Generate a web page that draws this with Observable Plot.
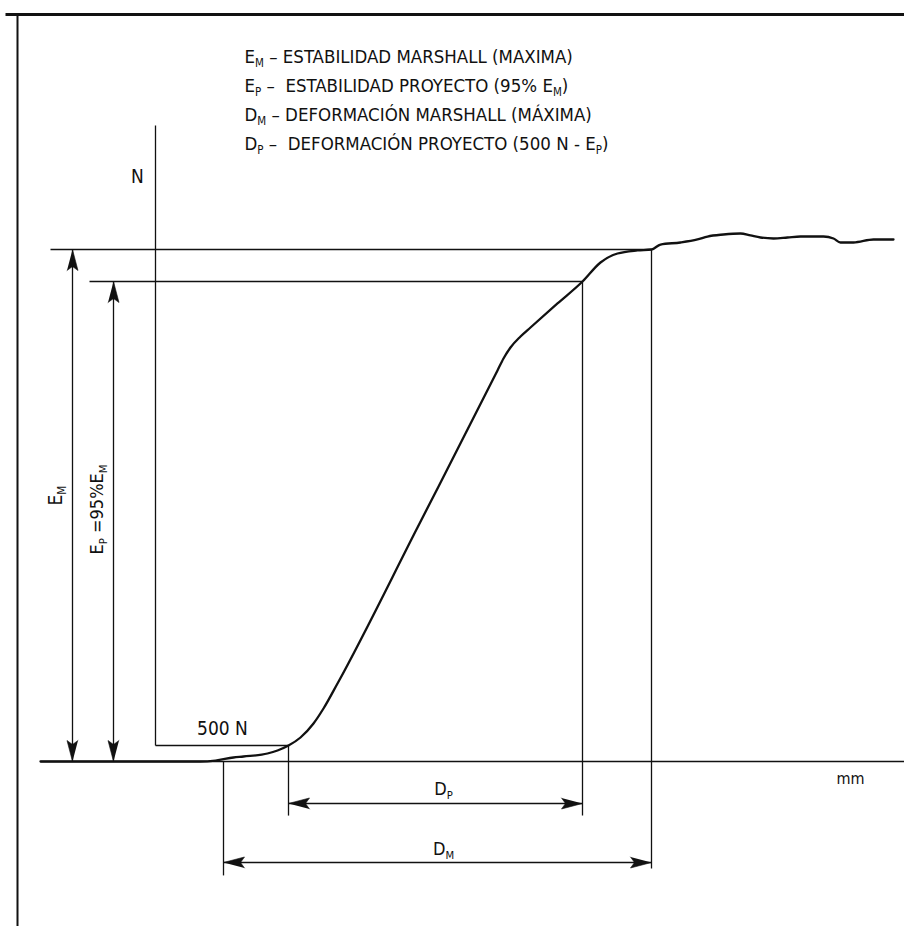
<!DOCTYPE html>
<html><head><meta charset="utf-8">
<script src="https://cdn.jsdelivr.net/npm/d3@7"></script>
<script src="https://cdn.jsdelivr.net/npm/@observablehq/plot@0.6"></script>
<style>
html,body{margin:0;padding:0;background:#fff;}
#chart svg{display:block;}
</style></head><body><div id="chart"></div>
<script>
// ---- values (x: deformation in mm, y: load in N) ----
const EM = 16000;            // Estabilidad Marshall (máxima)
const EP = 15000;            // Estabilidad proyecto (~95% EM as drawn)
const N500 = 500;            // 500 N threshold
const xStart = 0.68;         // start of D_M
const x500 = 1.33;           // deformation at 500 N
const xDP = 4.27;            // deformation at E_P
const xDM = 4.96;            // deformation at E_M

const curveMM = [-1.15,-0.55,-0.05,0.45,0.60,0.78,0.88,1.12,1.22,1.33,1.45,1.58,1.68,1.82,2.62,3.42,3.48,3.55,3.65,3.75,4.02,4.27,4.45,4.62,4.82,4.96,5.05,5.25,5.42,5.52,5.68,5.85,5.95,6.05,6.18,6.32,6.45,6.68,6.78,6.85,6.98,7.18,7.38];
const curveN  = [0,0,0,0,30,125,156,250,344,500,750,1188,1656,2438,7313,12219,12594,12938,13281,13563,14313,15000,15594,15875,15970,16000,16156,16219,16313,16406,16469,16500,16438,16375,16344,16375,16406,16406,16344,16219,16219,16313,16313];

const legendLines = [
  "E{M} – ESTABILIDAD MARSHALL (MAXIMA)",
  "E{P} –  ESTABILIDAD PROYECTO (95% E{M})",
  "D{M} – DEFORMACIÓN MARSHALL (MÁXIMA)",
  "D{P} –  DEFORMACIÓN PROYECTO (500 N - E{P})"
];
const labelEM = "E{M}";
const labelEP = "E{P} =95%E{M}";
const labelDP = "D{P}";
const labelDM = "D{M}";
const label500 = "500 N";
const labelN = "N";
const labelMM = "mm";

// ---- layout (data units) ----
const xMin = -1.55, xMax = 7.49, yMin = -5156.25, yMax = 23781.25;
const xArrEM = -0.83, xArrEP = -0.42;
const yArrDP = -1312, yArrDM = -3156;

const curve = curveMM.map((x, i) => ({x, y: curveN[i]}));

const thin = [
  {x1: -1.15, y1: 0, x2: xMax, y2: 0},                  // baseline (mm axis)
  {x1: 0, y1: N500, x2: 0, y2: 19875},                   // N axis
  {x1: 0, y1: N500, x2: x500, y2: N500},                 // 500 N level
  {x1: -1.05, y1: EM, x2: xDM, y2: EM},                  // EM level
  {x1: -0.66, y1: EP, x2: xDP, y2: EP},                  // EP level
  {x1: xStart, y1: 0, x2: xStart, y2: -3560},
  {x1: x500, y1: N500, x2: x500, y2: -1690},
  {x1: xDP, y1: EP, x2: xDP, y2: -1690},
  {x1: xDM, y1: EM, x2: xDM, y2: -3340},
  {x1: xArrEM, y1: 0, x2: xArrEM, y2: EM},
  {x1: xArrEP, y1: 0, x2: xArrEP, y2: EP},
  {x1: x500, y1: yArrDP, x2: xDP, y2: yArrDP},
  {x1: xStart, y1: yArrDM, x2: xDM, y2: yArrDM}
];
const frame = [
  {x1: -1.50, y1: 23344, x2: xMax, y2: 23344, w: 3},
  {x1: -1.38, y1: 23300, x2: -1.38, y2: yMin, w: 2}
];

// arrowheads (polygons) built from the dimension line ends
const pxX = 100, pxY = 0.032; // pixels per unit
const heads = [];
function head(id, tx, ty, dx, dy) { // (dx,dy) screen direction of pointing
  const L = 21, W = 5.5, notch = 17;
  const bx = -dx, by = -dy, nx = -dy, ny = dx;
  const pts = [
    [0, 0],
    [bx * L + nx * W, by * L + ny * W],
    [bx * notch, by * notch],
    [bx * L - nx * W, by * L - ny * W]
  ];
  pts.forEach(([px, py]) => heads.push({id, x: tx + px / pxX, y: ty - py / pxY}));
}
head("em-t", xArrEM, EM, 0, -1); head("em-b", xArrEM, 0, 0, 1);
head("ep-t", xArrEP, EP, 0, -1); head("ep-b", xArrEP, 0, 0, 1);
head("dp-l", x500, yArrDP, -1, 0); head("dp-r", xDP, yArrDP, 1, 0);
head("dm-l", xStart, yArrDM, -1, 0); head("dm-r", xDM, yArrDM, 1, 0);

const FONT = "'Liberation Sans Narrow', 'DejaVu Sans Condensed', 'Liberation Sans', sans-serif";

const chart = Plot.plot({
  width: 904, height: 926, margin: 0,
  x: {domain: [xMin, xMax], axis: null},
  y: {domain: [yMin, yMax], axis: null},
  style: {fontFamily: FONT, background: "#fff", color: "#111"},
  marks: [
    Plot.link(frame, {x1: "x1", y1: "y1", x2: "x2", y2: "y2", stroke: "#111", strokeWidth: d => d.w}),
    Plot.link(thin, {x1: "x1", y1: "y1", x2: "x2", y2: "y2", stroke: "#111", strokeWidth: 1.3}),
    Plot.line(heads, {x: "x", y: "y", z: "id", fill: "#111", stroke: "#111", strokeWidth: 0.6}),
    Plot.line(curve, {x: "x", y: "y", stroke: "#111", strokeWidth: 2.3, curve: "monotone-x"}),
    Plot.text(legendLines, {x: () => 0.89, y: (d, i) => 22000 - i * 906, text: d => d, textAnchor: "start", fontSize: 18.5, fill: "#111"}),
    Plot.text([labelEM], {x: () => -1.00, y: () => 8313, text: d => d, rotate: -90, fontSize: 19, fill: "#111"}),
    Plot.text([labelEP], {x: () => -0.58, y: () => 7875, text: d => d, rotate: -90, fontSize: 18, fill: "#111"}),
    Plot.text([labelDP], {x: () => 2.88, y: () => -875, text: d => d, fontSize: 18, fill: "#111"}),
    Plot.text([labelDM], {x: () => 2.88, y: () => -2750, text: d => d, fontSize: 18, fill: "#111"}),
    Plot.text([label500], {x: () => 0.67, y: () => 1030, text: d => d, fontSize: 19, fill: "#111"}),
    Plot.text([labelN], {x: () => -0.18, y: () => 18281, text: d => d, fontSize: 19, fill: "#111"}),
    Plot.text([labelMM], {x: () => 6.95, y: () => -531, text: d => d, fontSize: 16, fill: "#111"})
  ]
});

// subscripts: "X{S}" -> X with a smaller lowered S
chart.querySelectorAll("text").forEach(t => {
  const s = t.textContent;
  if (!s.includes("{")) return;
  while (t.firstChild) t.removeChild(t.firstChild);
  const NS = "http://www.w3.org/2000/svg";
  let lowered = false;
  s.split(/(\{[^}]*\})/).filter(p => p.length).forEach(p => {
    const ts = document.createElementNS(NS, "tspan");
    if (p.startsWith("{")) {
      ts.textContent = p.slice(1, -1);
      ts.setAttribute("font-size", "0.62em");
      ts.setAttribute("dy", "4");
      lowered = true;
    } else {
      ts.textContent = p;
      if (lowered) { ts.setAttribute("dy", "-4"); lowered = false; }
    }
    t.appendChild(ts);
  });
});

document.getElementById("chart").appendChild(chart);
</script>
</body></html>
